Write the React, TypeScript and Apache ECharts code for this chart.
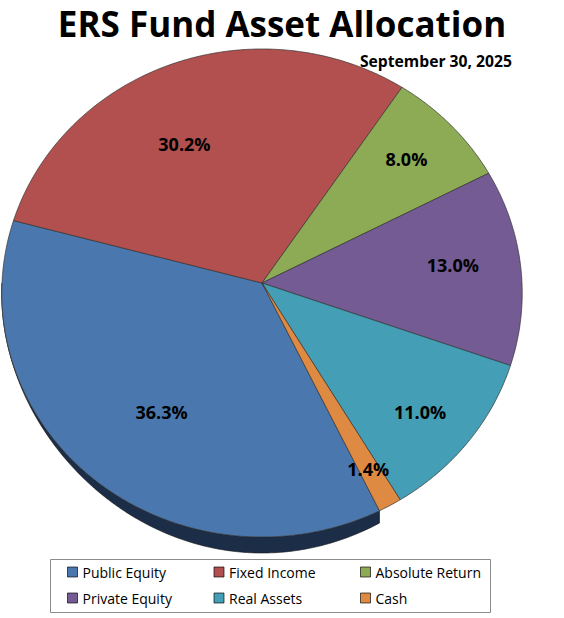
import React, { useEffect, useRef } from "react";
import * as echarts from "echarts";

const categories = ["Public Equity", "Fixed Income", "Absolute Return", "Private Equity", "Real Assets", "Cash"];
const values = [36.3, 30.2, 8.0, 13.0, 11.0, 1.4];
const titleText = "ERS Fund Asset Allocation";
const subtitleText = "September 30, 2025";

// styling / layout (not data)
const topColors = ["#4A78AE", "#B1504E", "#8DAA54", "#745B94", "#449EB5", "#DE8A42"];
const wallColors = ["#1C2D48", "#4A2120", "#3A4722", "#30253D", "#1E4650", "#6B4016"];
const labelRadius = [0.64, 0.66, 0.77, 0.74, 0.79, 0.84];
const labelAngleShift = [3.4, 7, 0.8, 1.8, -1.8, -0.2];

const CX = 262;
const CY = 283;
const RX = 260;
const RY = 243.6;
const K = 0.041;
const DEPTH = 16;
const START = -64.2;
const FONT = "'Open Sans', Lato, sans-serif";

function project(deg: number, r: number): number[] {
  const t = (deg * Math.PI) / 180;
  const u = r * Math.cos(t);
  const v = r * Math.sin(t);
  const s = 1 / (1 + K * v);
  return [CX + RX * u * s, CY - RY * v * s];
}

function makeRender(i: number) {
  return (params: any, api: any) => {
    const total = values.reduce((a, b) => a + b, 0);
    let cum = 0;
    for (let j = 0; j < i; j++) cum += values[j];
    const v = api.value(0);
    const a0 = START - (cum / total) * 360;
    const a1 = a0 - (v / total) * 360;
    const n = Math.max(2, Math.ceil(Math.abs(a1 - a0) * 2));
    const top: number[][] = [[CX, CY]];
    for (let k = 0; k <= n; k++) top.push(project(a0 + ((a1 - a0) * k) / n, 1));
    const children: any[] = [];
    const hi = Math.min(a0, 0);
    const lo = Math.max(a1, -180);
    if (hi > lo) {
      const m = Math.max(2, Math.ceil((hi - lo) * 2));
      const upper: number[][] = [];
      const lower: number[][] = [];
      for (let k = 0; k <= m; k++) {
        const ang = hi - ((hi - lo) * k) / m;
        const p = project(ang, 1);
        const sn = Math.max(0, -Math.sin((ang * Math.PI) / 180));
        upper.push(p);
        lower.push([p[0], p[1] + DEPTH * Math.pow(sn, 2.5)]);
      }
      children.push({
        type: "polygon",
        z2: 1,
        shape: { points: upper.concat(lower.reverse()) },
        style: { fill: wallColors[i], stroke: "#151515", lineWidth: 0.6 },
      });
    }
    children.push({
      type: "polygon",
      z2: 10,
      shape: { points: top },
      style: { fill: topColors[i], stroke: "#333333", lineWidth: 0.7, lineJoin: "round" },
    });
    const mid = (a0 + a1) / 2 + labelAngleShift[i];
    const lp = project(mid, labelRadius[i]);
    children.push({
      type: "text",
      z2: 100,
      x: lp[0],
      y: lp[1],
      style: {
        text: v.toFixed(1) + "%",
        fill: "#000",
        fontFamily: FONT,
        fontWeight: "bold",
        fontSize: 18,
        align: "center",
        verticalAlign: "middle",
        textAlign: "center",
        textVerticalAlign: "middle",
      },
    });
    return { type: "group", children };
  };
}

const legendBase = {
  left: 67,
  orient: "horizontal",
  icon: "rect",
  itemWidth: 10,
  itemHeight: 10,
  itemGap: 16,
  selectedMode: false,
  padding: 0,
  itemStyle: { borderColor: "rgba(0,0,0,0.65)", borderWidth: 1 },
  textStyle: {
    fontFamily: FONT,
    fontSize: 14,
    color: "#000",
    width: 115,
    lineHeight: 14,
    overflow: "truncate",
  },
};

export default function App() {
  const ref = useRef<HTMLDivElement>(null);
  useEffect(() => {
    if (!ref.current) return;
    const chart = echarts.init(ref.current, undefined, { renderer: "svg" });
    chart.setOption({
      animation: false,
      backgroundColor: "#ffffff",
      graphic: [
        {
          type: "text",
          x: 282,
          y: 23,
          style: {
            text: titleText,
            fill: "#000",
            fontFamily: FONT,
            fontWeight: "bold",
            fontSize: 35,
            lineHeight: 36,
            align: "center",
            verticalAlign: "middle",
            textAlign: "center",
            textVerticalAlign: "middle",
          },
        },
        {
          type: "text",
          x: 512,
          y: 61,
          style: {
            text: subtitleText,
            fill: "#000",
            fontFamily: FONT,
            fontWeight: "bold",
            fontSize: 15.7,
            align: "right",
            verticalAlign: "middle",
            textAlign: "right",
            textVerticalAlign: "middle",
          },
        },
        {
          type: "rect",
          shape: { x: 50.5, y: 559.5, width: 440, height: 53 },
          style: { fill: "none", stroke: "#8c8c8c", lineWidth: 1 },
        },
      ],
      legend: [
        { ...legendBase, top: 565, data: categories.slice(0, 3) },
        { ...legendBase, top: 591, data: categories.slice(3, 6) },
      ],
      series: categories.map((name, i) => ({
        type: "custom",
        name,
        coordinateSystem: "none",
        itemStyle: { color: topColors[i] },
        data: [values[i]],
        renderItem: makeRender(i),
      })),
    });
    return () => chart.dispose();
  }, []);
  return (
    <div
      ref={ref}
      style={{ position: "fixed", left: 0, top: 0, width: 564, height: 618, background: "#fff" }}
    />
  );
}
